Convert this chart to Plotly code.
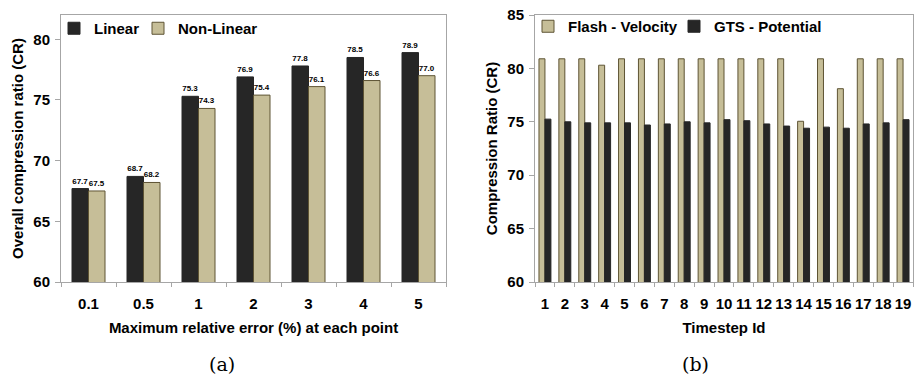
import plotly.graph_objects as go

# ---- data: chart (a)
err_labels = ["0.1", "0.5", "1", "2", "3", "4", "5"]
linear_cr = [67.7, 68.7, 75.3, 76.9, 77.8, 78.5, 78.9]
nonlinear_cr = [67.5, 68.2, 74.3, 75.4, 76.1, 76.6, 77.0]

# ---- data: chart (b)
timesteps = [str(i) for i in range(1, 20)]
flash_velocity = [80.9, 80.9, 80.9, 80.3, 80.9, 80.9, 80.9, 80.9, 80.9, 80.9,
                  80.9, 80.9, 80.9, 75.05, 80.9, 78.1, 80.9, 80.9, 80.9]
gts_potential = [75.25, 75.0, 74.9, 74.9, 74.9, 74.7, 74.8, 75.0, 74.9, 75.2,
                 75.1, 74.8, 74.6, 74.4, 74.5, 74.4, 74.8, 74.9, 75.2]

DARK = "#262626"
TAN = "#C6BE98"
TAN_LINE = "#5E5434"
AXIS = "#A6A6A6"
FONT = "Liberation Sans"

W, H = 914, 375
def fx(px):
    return px / W
def fy(py):
    return 1 - py / H

fig = go.Figure()

labfont = dict(family=FONT, size=8, color="#000", weight="bold")
fig.add_trace(go.Bar(
    x=err_labels, y=linear_cr, name="Linear", xaxis="x", yaxis="y",
    marker=dict(color=DARK, line=dict(color=DARK, width=1)),
    text=[f"{v:.1f}" for v in linear_cr], textposition="outside",
    textfont=labfont, cliponaxis=False, legend="legend", legendwidth=39))
fig.add_trace(go.Bar(
    x=err_labels, y=nonlinear_cr, name="Non-Linear", xaxis="x", yaxis="y",
    marker=dict(color=TAN, line=dict(color=TAN_LINE, width=1)),
    text=[f"{v:.1f}" for v in nonlinear_cr], textposition="outside",
    textfont=labfont, cliponaxis=False, legend="legend"))

fig.add_trace(go.Bar(
    x=timesteps, y=flash_velocity, name="Flash - Velocity", xaxis="x2", yaxis="y2",
    marker=dict(color=TAN, line=dict(color=TAN_LINE, width=1)),
    legend="legend2", legendwidth=101))
fig.add_trace(go.Bar(
    x=timesteps, y=gts_potential, name="GTS - Potential", xaxis="x2", yaxis="y2",
    marker=dict(color=DARK, line=dict(color=DARK, width=1)),
    legend="legend2"))

tickfont = dict(family=FONT, size=15, color="#000", weight="bold")
titlefont = dict(family=FONT, size=15, color="#000", weight="bold")
legfont = dict(family=FONT, size=15, color="#000", weight="bold")

common_x = dict(type="category", showgrid=False, showline=True, linecolor=AXIS,
                linewidth=1, mirror=True, ticks="outside", tickson="boundaries",
                ticklen=4, tickcolor=AXIS, tickfont=tickfont, tickangle=0,
                ticklabelstandoff=8, automargin=False)
common_y = dict(showgrid=False, showline=True, linecolor=AXIS, linewidth=1,
                mirror=True, ticks="outside", ticklen=5, tickcolor=AXIS,
                tickfont=tickfont, zeroline=False, ticklabelstandoff=2,
                automargin=False)

fig.update_layout(
    template="none",
    width=W, height=H,
    margin=dict(l=0, r=0, t=0, b=0, autoexpand=False),
    paper_bgcolor="white", plot_bgcolor="white",
    barmode="group", bargap=0.4, bargroupgap=0.0,
    xaxis=dict(domain=[fx(61), fx(446)], anchor="y",
               title=dict(text="Maximum relative error (%) at each point",
                          font=titlefont, standoff=11), **common_x),
    yaxis=dict(domain=[fy(282), fy(15)], anchor="x", range=[60, 82],
               tickvals=[60, 65, 70, 75, 80],
               title=dict(text="Overall compression ratio (CR)", font=titlefont,
                          standoff=6), **common_y),
    xaxis2=dict(domain=[fx(535), fx(913)], anchor="y2",
                title=dict(text="Timestep Id", font=titlefont, standoff=11),
                **common_x),
    yaxis2=dict(domain=[fy(282), fy(15)], anchor="x2", range=[60, 85],
                tickvals=[60, 65, 70, 75, 80, 85],
                title=dict(text="Compression Ratio (CR)", font=titlefont,
                           standoff=6), **common_y),
    legend=dict(orientation="h", x=fx(54), y=fy(12), xanchor="left", yanchor="top",
                font=legfont, bgcolor="rgba(0,0,0,0)", traceorder="normal",
                itemwidth=30, tracegroupgap=0),
    legend2=dict(orientation="h", x=fx(528), y=fy(10), xanchor="left", yanchor="top",
                 font=legfont, bgcolor="rgba(0,0,0,0)", traceorder="normal",
                 itemwidth=30, tracegroupgap=0),
    annotations=[
        dict(text="(a)", x=fx(222), y=fy(364), xref="paper", yref="paper",
             xanchor="center", yanchor="middle", showarrow=False,
             font=dict(family="DejaVu Serif", size=19, color="#000")),
        dict(text="(b)", x=fx(695), y=fy(364), xref="paper", yref="paper",
             xanchor="center", yanchor="middle", showarrow=False,
             font=dict(family="DejaVu Serif", size=19, color="#000")),
    ],
)

fig.write_html("out.html", config={"displayModeBar": False},
               post_script="document.body.style.margin='0';")
